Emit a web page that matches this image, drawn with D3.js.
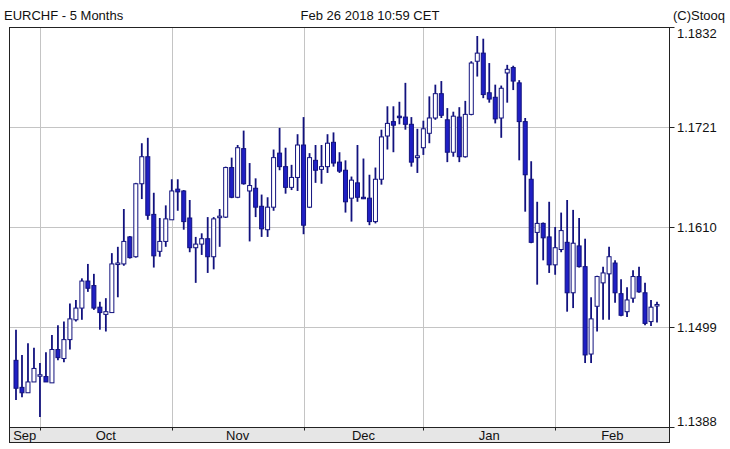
<!DOCTYPE html>
<html><head><meta charset="utf-8">
<script src="https://cdn.jsdelivr.net/npm/d3@7"></script>
<style>body{margin:0;background:#fff}svg{display:block;font-family:"Liberation Sans",Arial,sans-serif}</style>
</head><body><svg id="c" width="730" height="449"></svg>
<script>
const opens  = [1.1462,1.1432,1.1426,1.1438,1.1445,1.1444,1.1437,1.1474,1.1464,1.1485,1.1507,1.1520,1.1550,1.1545,1.1521,1.1513,1.1515,1.1569,1.1569,1.1599,1.1577,1.1658,1.1688,1.1624,1.1583,1.1594,1.1618,1.1652,1.1650,1.1620,1.1587,1.1591,1.1597,1.1577,1.1621,1.1621,1.1676,1.1643,1.1697,1.1650,1.1653,1.1633,1.1607,1.1632,1.1692,1.1677,1.1654,1.1665,1.1701,1.1632,1.1684,1.1674,1.1677,1.1704,1.1682,1.1673,1.1642,1.1659,1.1643,1.1642,1.1616,1.1663,1.1711,1.1727,1.1733,1.1732,1.1724,1.1687,1.1698,1.1714,1.1731,1.1758,1.1729,1.1693,1.1732,1.1688,1.1735,1.1794,1.1803,1.1759,1.1754,1.1731,1.1781,1.1787,1.1770,1.1727,1.1663,1.1604,1.1614,1.1599,1.1568,1.1585,1.1593,1.1537,1.1589,1.1566,1.1469,1.1522,1.1548,1.1558,1.1570,1.1536,1.1516,1.1531,1.1555,1.1537,1.1505,1.1523];
const highs  = [1.1496,1.1468,1.1481,1.1476,1.1459,1.1471,1.1490,1.1501,1.1505,1.1525,1.1529,1.1553,1.1569,1.1558,1.1527,1.1531,1.1581,1.1588,1.1630,1.1600,1.1659,1.1703,1.1709,1.1648,1.1620,1.1634,1.1663,1.1663,1.1651,1.1640,1.1599,1.1603,1.1621,1.1621,1.1630,1.1677,1.1687,1.1701,1.1717,1.1681,1.1664,1.1646,1.1643,1.1696,1.1720,1.1698,1.1679,1.1713,1.1732,1.1692,1.1701,1.1701,1.1713,1.1715,1.1693,1.1684,1.1666,1.1701,1.1686,1.1668,1.1676,1.1718,1.1744,1.1744,1.1749,1.1770,1.1732,1.1719,1.1728,1.1755,1.1768,1.1772,1.1742,1.1738,1.1743,1.1750,1.1794,1.1822,1.1819,1.1792,1.1768,1.1767,1.1790,1.1789,1.1773,1.1731,1.1683,1.1638,1.1615,1.1638,1.1610,1.1626,1.1640,1.1629,1.1620,1.1597,1.1532,1.1556,1.1566,1.1588,1.1573,1.1552,1.1543,1.1562,1.1566,1.1548,1.1529,1.1527];
const lows   = [1.1418,1.1421,1.1426,1.1438,1.1399,1.1438,1.1437,1.1462,1.1460,1.1474,1.1505,1.1507,1.1538,1.1518,1.1496,1.1494,1.1515,1.1532,1.1567,1.1575,1.1576,1.1641,1.1618,1.1565,1.1577,1.1588,1.1618,1.1628,1.1607,1.1582,1.1548,1.1579,1.1559,1.1563,1.1588,1.1620,1.1642,1.1642,1.1657,1.1594,1.1621,1.1599,1.1599,1.1628,1.1673,1.1647,1.1651,1.1650,1.1602,1.1631,1.1659,1.1658,1.1670,1.1677,1.1670,1.1626,1.1616,1.1638,1.1641,1.1612,1.1614,1.1657,1.1696,1.1693,1.1724,1.1718,1.1677,1.1670,1.1690,1.1703,1.1729,1.1731,1.1682,1.1688,1.1682,1.1687,1.1734,1.1777,1.1753,1.1748,1.1725,1.1709,1.1748,1.1762,1.1684,1.1627,1.1592,1.1546,1.1573,1.1559,1.1557,1.1582,1.1516,1.1520,1.1565,1.1459,1.1459,1.1494,1.1507,1.1507,1.1526,1.1511,1.1510,1.1526,1.1537,1.1501,1.1500,1.1504];
const closes = [1.1431,1.1426,1.1438,1.1453,1.1446,1.1438,1.1474,1.1465,1.1485,1.1508,1.1520,1.1550,1.1542,1.1520,1.1515,1.1516,1.1569,1.1570,1.1594,1.1576,1.1658,1.1688,1.1623,1.1578,1.1594,1.1619,1.1650,1.1649,1.1616,1.1587,1.1591,1.1597,1.1577,1.1619,1.1622,1.1676,1.1643,1.1698,1.1658,1.1656,1.1632,1.1608,1.1632,1.1687,1.1677,1.1654,1.1665,1.1701,1.1612,1.1687,1.1673,1.1677,1.1703,1.1681,1.1672,1.1638,1.1662,1.1643,1.1642,1.1616,1.1663,1.1710,1.1725,1.1723,1.1732,1.1724,1.1682,1.1689,1.1719,1.1731,1.1758,1.1734,1.1693,1.1733,1.1688,1.1735,1.1792,1.1803,1.1757,1.1752,1.1730,1.1764,1.1785,1.1772,1.1727,1.1668,1.1593,1.1614,1.1598,1.1568,1.1587,1.1606,1.1537,1.1592,1.1566,1.1468,1.1508,1.1555,1.1559,1.1577,1.1537,1.1512,1.1529,1.1555,1.1538,1.1503,1.1521,1.1524];
const monthLabels = ["Sep","Oct","Nov","Dec","Jan","Feb"];
const monthStartIdx = [4,26,48,68,90];
const yTicks = [1.1388,1.1499,1.1610,1.1721,1.1832];
const title = "EURCHF - 5 Months", stamp = "Feb 26 2018 10:59 CET", credit = "(C)Stooq";

const svg = d3.select("#c");
const L=9.5, R=669.5, T=27.5, B=427.5;
const x = d3.scaleLinear().domain([0, opens.length-1]).range([16, 657]);
const y = d3.scaleLinear().domain([1.1388, 1.1832]).range([427, 27]);
const gx = i => Math.round(x(i))+0.5;

svg.append("text").attr("x",4).attr("y",20).attr("font-size",13).attr("fill","#111").text(title);
svg.append("text").attr("x",370).attr("y",20).attr("font-size",13).attr("text-anchor","middle").attr("fill","#111").text(stamp);
svg.append("text").attr("x",725).attr("y",20).attr("font-size",13).attr("text-anchor","end").attr("fill","#111").text(credit);

svg.append("g").selectAll("line").data(yTicks).join("line")
  .attr("x1",L).attr("x2",R).attr("y1",d=>Math.round(y(d))+0.5).attr("y2",d=>Math.round(y(d))+0.5)
  .attr("stroke","#c4c4c4");
svg.append("g").selectAll("line").data(monthStartIdx).join("line")
  .attr("x1",gx).attr("x2",gx).attr("y1",T).attr("y2",B)
  .attr("stroke","#c4c4c4");

svg.append("rect").attr("x",L).attr("y",B).attr("width",R-L).attr("height",15).attr("fill","#e6e6e6").attr("stroke","#222");
const bounds = [L, ...monthStartIdx.map(x), R];
svg.append("g").selectAll("text").data(monthLabels).join("text")
  .attr("x",(d,i)=>(bounds[i]+bounds[i+1])/2).attr("y",B+12.5).attr("font-size",13)
  .attr("text-anchor","middle").attr("fill","#111").text(d=>d);
svg.append("g").selectAll("line").data(monthStartIdx).join("line")
  .attr("x1",gx).attr("x2",gx).attr("y1",B).attr("y2",B+3)
  .attr("stroke","#222");

svg.append("rect").attr("x",L).attr("y",T).attr("width",R-L).attr("height",B-T).attr("fill","none").attr("stroke","#222");

const ax = svg.append("g");
ax.selectAll("line").data(yTicks).join("line")
  .attr("x1",R).attr("x2",R+5).attr("y1",d=>Math.round(y(d))+0.5).attr("y2",d=>Math.round(y(d))+0.5).attr("stroke","#222");
ax.selectAll("text").data(yTicks).join("text")
  .attr("x",677).attr("y",d=>Math.min(421,Math.max(33,y(d)))).attr("dy","0.35em").attr("font-size",13)
  .attr("fill","#111").text(d=>d.toFixed(4));

const idx = d3.range(opens.length);
const g = svg.append("g");
g.selectAll("line").data(idx).join("line")
  .attr("x1",i=>x(i)).attr("x2",i=>x(i)).attr("y1",i=>y(highs[i])).attr("y2",i=>y(lows[i]))
  .attr("stroke","#12127e").attr("stroke-width",1.8);
g.selectAll("rect").data(idx).join("rect")
  .attr("x",i=>x(i)-2).attr("width",4)
  .attr("y",i=>y(Math.max(opens[i],closes[i])))
  .attr("height",i=>Math.max(1.5,Math.abs(y(opens[i])-y(closes[i]))))
  .attr("fill",i=>closes[i]<opens[i]?"#1f1fc4":"#fff")
  .attr("stroke","#12127e").attr("stroke-width",1);
</script></body></html>
